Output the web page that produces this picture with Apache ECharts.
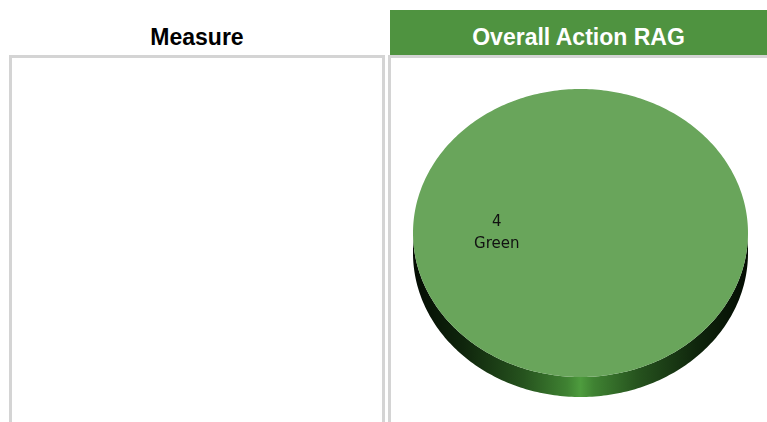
<!DOCTYPE html>
<html>
<head>
<meta charset="utf-8">
<script src="https://cdn.jsdelivr.net/npm/echarts@6/dist/echarts.min.js"></script>
<style>
  html, body { margin: 0; padding: 0; background: #fff; width: 767px; height: 422px; overflow: hidden; }
  .head { position: absolute; top: 10px; height: 45px; line-height: 54px; text-align: center;
          font-family: "Liberation Sans", Arial, sans-serif; font-weight: bold; font-size: 23px; }
  .cell { position: absolute; top: 55px; height: 380px; border: 3px solid #d4d4d4; border-bottom: none; box-sizing: border-box; }
</style>
</head>
<body>
  <div class="head" style="left:9px;width:376px;color:#000">Measure</div>
  <div class="head" style="left:390px;width:377px;color:#fff;background:#4f9340">Overall Action RAG</div>
  <div class="cell" style="left:9px;width:376px"></div>
  <div class="cell" style="left:388px;width:385px"></div>
  <div id="chart" style="position:absolute;left:391px;top:58px;width:376px;height:364px"></div>

<script>
const categories = ['Green']
const values = [4]
const sliceColors = ['#69a55b']

const chart = echarts.init(document.getElementById('chart'))

// ellipse geometry inside the chart box
const cx = 189.5
const cy = 175
const rx = 167.5
const ry = 144
const depth = 20

const total = values.reduce((a, b) => a + b, 0)
const angles = []
let acc = 0
values.forEach(v => {
  const a0 = acc / total * Math.PI * 2
  acc += v
  angles.push([a0, acc / total * Math.PI * 2])
})

function ellipsePts (a0, a1, dy) {
  const pts = []
  const n = Math.max(2, Math.ceil((a1 - a0) / (Math.PI * 2) * 360))
  for (let k = 0; k <= n; k++) {
    const t = a0 + (a1 - a0) * k / n
    pts.push([cx + rx * Math.cos(t), cy + dy + ry * Math.sin(t)])
  }
  return pts
}

function sideItem (params, api) {
  const [a0, a1] = angles[params.dataIndex]
  // only the front half (0..PI) of the rim shows
  const s = Math.max(a0, 0)
  const e = Math.min(a1, Math.PI)
  if (e <= s) return
  const top = ellipsePts(s, e, 0)
  const bottom = ellipsePts(s, e, depth).reverse()
  return {
    type: 'polygon',
    shape: { points: top.concat(bottom) },
    style: {
      fill: new echarts.graphic.LinearGradient(0, 0, 1, 0, [
        { offset: 0, color: '#040c03' },
        { offset: 0.15, color: '#0f250c' },
        { offset: 0.33, color: '#26531e' },
        { offset: 0.46, color: '#3f8232' },
        { offset: 0.5, color: '#4e9c3e' },
        { offset: 0.54, color: '#3f8232' },
        { offset: 0.67, color: '#26531e' },
        { offset: 0.85, color: '#0f250c' },
        { offset: 1, color: '#040c03' }
      ])
    }
  }
}

function topItem (params, api) {
  const i = params.dataIndex
  const [a0, a1] = angles[i]
  const mid = (a0 + a1) / 2
  const pts = [[cx, cy]].concat(ellipsePts(a0, a1, 0))
  return {
    type: 'group',
    children: [
      { type: 'polygon', shape: { points: pts }, style: { fill: sliceColors[i] } },
      {
        type: 'text',
        x: cx + rx * 0.5 * Math.cos(mid),
        y: cy + ry * 0.5 * Math.sin(mid),
        style: {
          text: api.value(0) + '\n' + categories[i],
          fill: '#111',
          font: '15px "DejaVu Sans", Tahoma, sans-serif',
          lineHeight: 22,
          align: 'center',
          verticalAlign: 'middle'
        }
      }
    ]
  }
}

const option = {
  animation: false,
  series: [
    {
      type: 'custom',
      coordinateSystem: 'none',
      renderItem: sideItem,
      data: values,
      z: 1
    },
    {
      type: 'custom',
      coordinateSystem: 'none',
      renderItem: topItem,
      data: values,
      z: 2
    }
  ]
}
chart.setOption(option)
</script>
</body>
</html>
